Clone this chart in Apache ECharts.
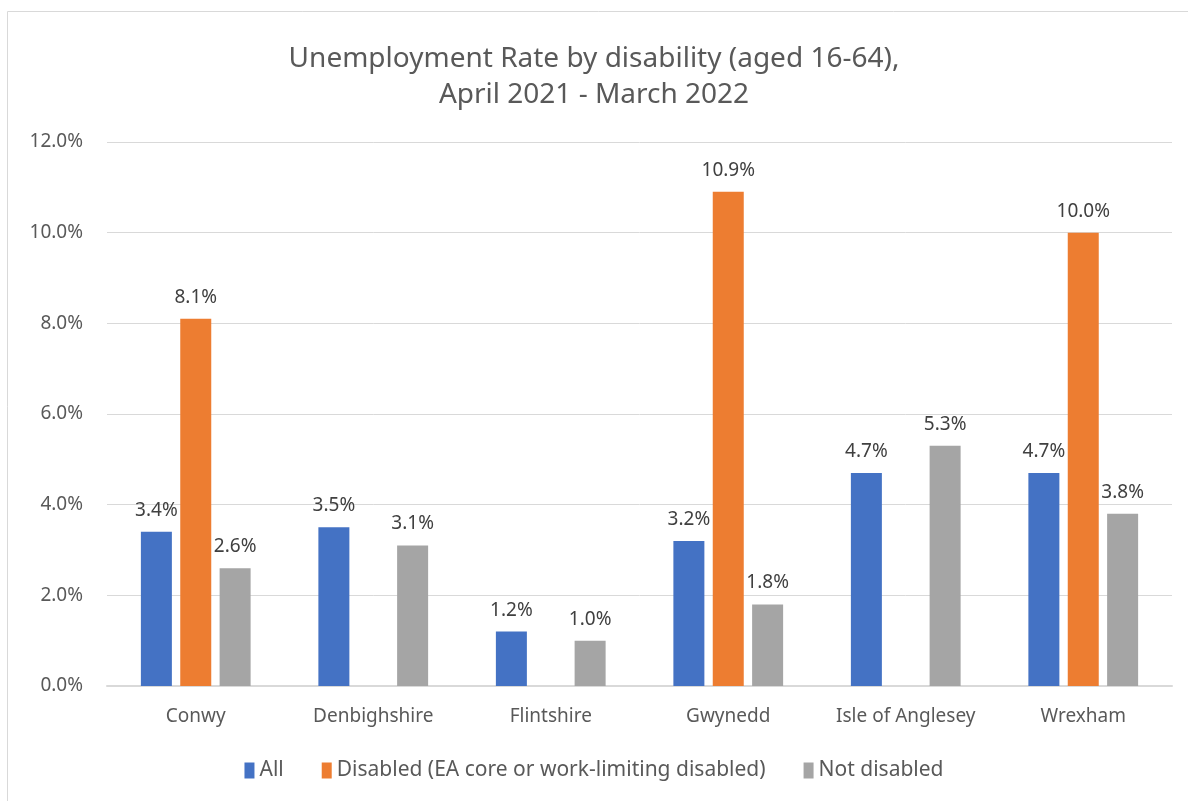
<!DOCTYPE html>
<html><head><meta charset="utf-8">
<script src="https://cdn.jsdelivr.net/npm/echarts@6/dist/echarts.min.js"></script>
<style>html,body{margin:0;padding:0;background:#fff}#c{width:1188px;height:801px}</style>
</head><body><div id="c"></div>
<script>
const categories = ['Conwy','Denbighshire','Flintshire','Gwynedd','Isle of Anglesey','Wrexham'];
const allValues = [3.4, 3.5, 1.2, 3.2, 4.7, 4.7];
const disabledValues = [8.1, null, null, 10.9, null, 10.0];
const notDisabledValues = [2.6, 3.1, 1.0, 1.8, 5.3, 3.8];
const seriesNames = ['All','Disabled (EA core or work-limiting disabled)','Not disabled'];
const colors = ['#4472C4','#ED7D31','#A5A5A5'];
const FONT = 'Noto Sans';

const chart = echarts.init(document.getElementById('c'));
const label = {show:true, position:'top', distance:12, color:'#404040', fontSize:19, fontFamily:FONT,
  formatter: p => p.value == null ? '' : p.value.toFixed(1) + '%'};
function mk(i, data){
  return {name:seriesNames[i], type:'bar', data:data, barWidth:31, barGap:'27%',
    itemStyle:{color:colors[i]}, label:label};
}
chart.setOption({
  animation:false,
  textStyle:{fontFamily:FONT},
  graphic:[{type:'rect', shape:{x:7.5,y:11.5,width:1190,height:800}, style:{fill:null, stroke:'#d9d9d9', lineWidth:1}, silent:true}],
  title:{text:'Unemployment Rate by disability (aged 16-64),\nApril 2021 - March 2022', left:'center', top:36,
    textStyle:{fontFamily:FONT, fontSize:28, fontWeight:'normal', color:'#595959', lineHeight:36}},
  legend:{bottom:15, left:'center', itemWidth:10, itemHeight:16, itemGap:38, icon:'rect',
    textStyle:{fontFamily:FONT, fontSize:21, color:'#595959', padding:[0,0,0,0]}, data:seriesNames},
  grid:{left:107, right:16, top:142, bottom:115, containLabel:false},
  xAxis:{type:'category', data:categories,
    axisLine:{lineStyle:{color:'#d9d9d9', width:2}}, axisTick:{show:false},
    axisLabel:{color:'#595959', fontSize:19, fontFamily:FONT, margin:21, interval:0}},
  yAxis:{type:'value', min:0, max:12, interval:2,
    axisLine:{show:false}, axisTick:{show:false},
    splitLine:{lineStyle:{color:'#d9d9d9', width:1}},
    axisLabel:{color:'#595959', fontSize:19, fontFamily:FONT, margin:24, formatter:v=>v.toFixed(1)+'%'}},
  series:[mk(0, allValues), mk(1, disabledValues), mk(2, notDisabledValues)]
});
</script></body></html>
